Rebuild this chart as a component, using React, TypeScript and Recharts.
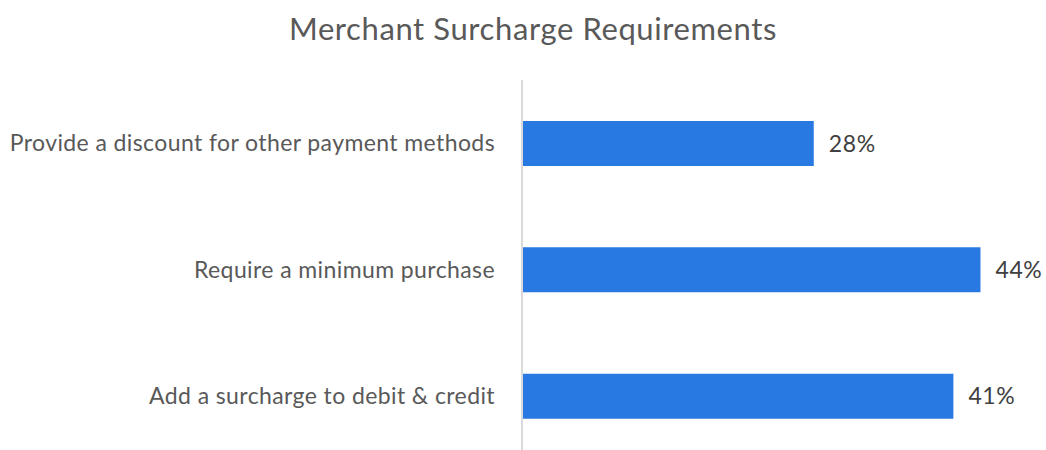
import { Bar, BarChart, LabelList, XAxis, YAxis } from "recharts";

const categories = [
  "Provide a discount for other payment methods",
  "Require a minimum purchase",
  "Add a surcharge to debit & credit",
];
const shares = [28, 44, 41.4]; // percent of merchants

const data = categories.map((name, i) => ({ name, share: shares[i] }));

function CategoryTick({ x, y, payload }: { x?: number; y?: number; payload?: { value: string } }) {
  return (
    <text
      x={(x ?? 0) - 19}
      y={y}
      dy={8}
      textAnchor="end"
      fill="#595959"
      fontSize={23}
      letterSpacing={0.4}
      fontFamily="Lato"
    >
      {payload?.value}
    </text>
  );
}

export default function App() {
  return (
    <div style={{ position: "relative", width: 1046, height: 450, overflow: "hidden", fontFamily: "Lato" }}>
      <style>{`body{margin:0}`}</style>
      <div
        style={{
          position: "absolute",
          top: 13,
          left: 0,
          width: 1066,
          textAlign: "center",
          fontSize: 31,
          letterSpacing: 0.6,
          lineHeight: "30px",
          color: "#595959",
        }}
      >
        Merchant Surcharge Requirements
      </div>
      <BarChart
        width={1046}
        height={460}
        data={data}
        layout="vertical"
        margin={{ top: 80, right: 3, bottom: 1, left: 0 }}
      >
        <XAxis type="number" domain={[0, 50]} hide />
        <YAxis
          type="category"
          dataKey="name"
          width={522}
          tick={<CategoryTick />}
          tickLine={false}
          axisLine={{ stroke: "#d9d9d9", strokeWidth: 2 }}
        />
        <Bar dataKey="share" fill="#2879E2" barSize={45} isAnimationActive={false}>
          <LabelList
            dataKey="share"
            position="right"
            offset={15}
            formatter={(v: number) => `${Math.round(v)}%`}
            style={{ fill: "#404040", fontSize: 23, letterSpacing: 0.6, fontFamily: "Lato" }}
          />
        </Bar>
      </BarChart>
    </div>
  );
}
